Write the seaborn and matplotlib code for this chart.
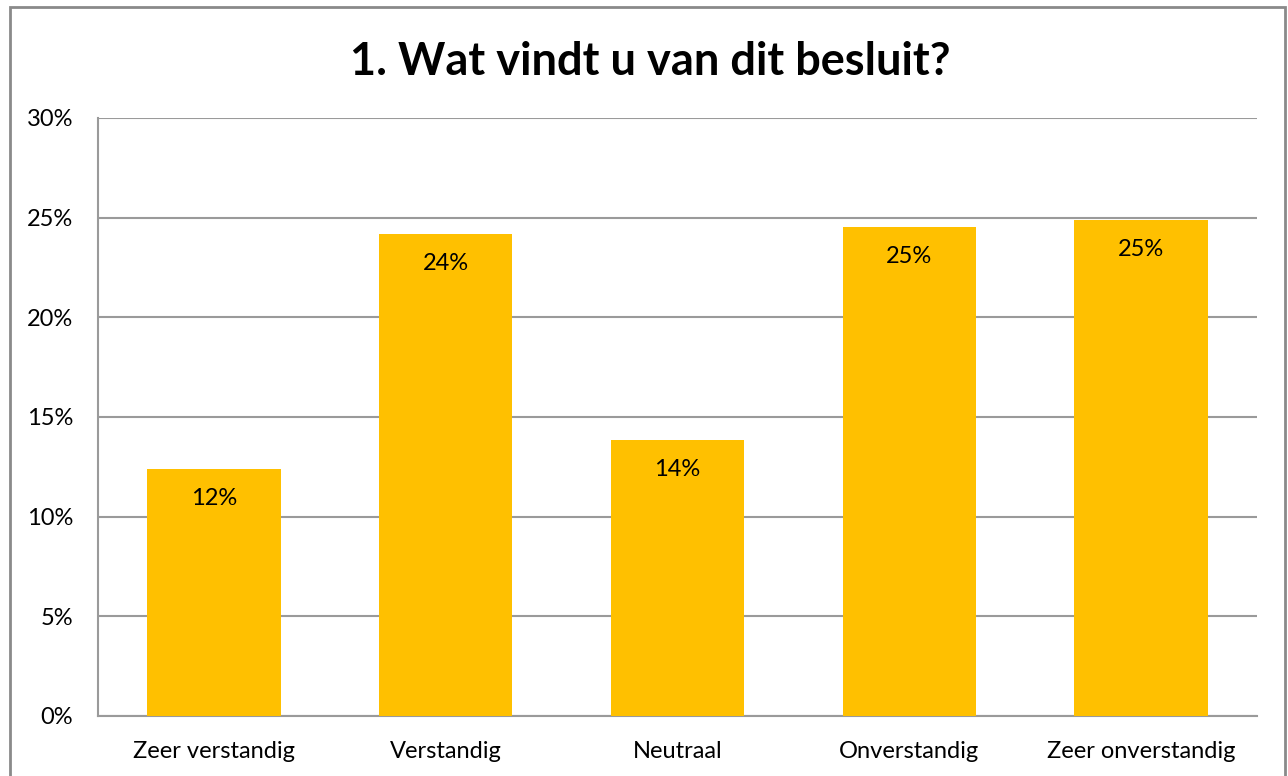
import matplotlib
matplotlib.use("Agg")
import matplotlib.pyplot as plt
import seaborn as sns
import pandas as pd
from matplotlib.patches import Rectangle
from matplotlib.ticker import FuncFormatter

categories = ["Zeer verstandig", "Verstandig", "Neutraal", "Onverstandig", "Zeer onverstandig"]
values = [12.4, 24.2, 13.85, 24.55, 24.9]
title = "1. Wat vindt u van dit besluit?"
yticks = [0, 5, 10, 15, 20, 25, 30]

sns.set_theme(style="white")
plt.rcParams['font.family'] = ['Lato', 'DejaVu Sans']

df = pd.DataFrame({"cat": categories, "val": values})

fig = plt.figure(figsize=(12.88, 7.76), dpi=100)
ax = fig.add_axes([98/1288, 60/776, (1257-98)/1288, (716-118)/776])

sns.barplot(data=df, x="cat", y="val", color="#FFC000", width=0.575,
            saturation=1, ax=ax, zorder=3, linewidth=0, edgecolor="none")

ax.set_ylim(0, 30)
ax.set_xlim(-0.5, len(categories) - 0.5)
ax.set_yticks(yticks)
ax.yaxis.set_major_formatter(FuncFormatter(lambda v, p: f"{v:.0f}%"))
ax.grid(axis="y", color="#9a9a9a", linewidth=1.5, zorder=0)
ax.set_axisbelow(True)
ax.set_xlabel("")
ax.set_ylabel("")
for s in ["top", "right"]:
    ax.spines[s].set_visible(False)
for s in ["left", "bottom"]:
    ax.spines[s].set_color("#9a9a9a")
    ax.spines[s].set_linewidth(1.5)
ax.tick_params(axis="y", labelsize=17, pad=18, length=0, colors="black")
ax.tick_params(axis="x", labelsize=17, pad=18, length=0, colors="black")

for i, v in enumerate(values):
    ax.annotate(f"{round(v):.0f}%", xy=(i, v), xytext=(0, -14), textcoords="offset points",
                ha="center", va="top", fontsize=17, color="black", zorder=5)

fig.text(650/1288, 1 - 62/776, title, ha="center", va="center",
         fontsize=32.5, fontweight="bold", color="black")

fig.patches.append(Rectangle((10/1288, -0.05), (1285-10)/1288, 1.05 - 7/776,
                             transform=fig.transFigure, fill=False,
                             edgecolor="#8a8a8a", linewidth=2, clip_on=False))

fig.savefig("out.png", dpi=100)
